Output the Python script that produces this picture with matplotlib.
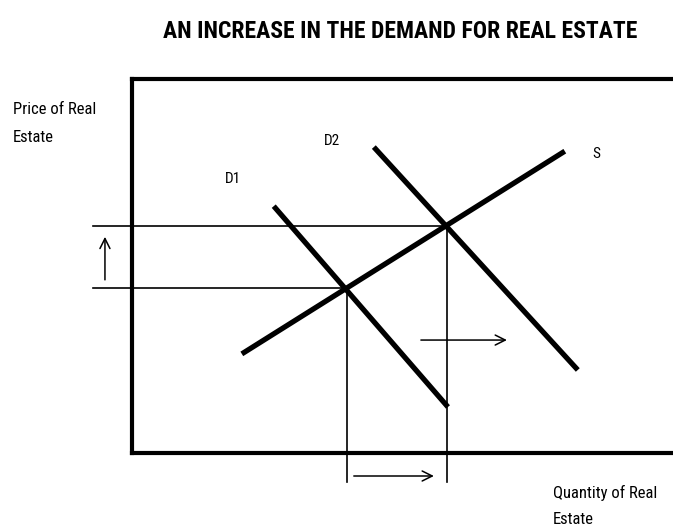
import matplotlib
matplotlib.use("Agg")
import matplotlib.pyplot as plt
from matplotlib import font_manager

W, H = 673, 529
fig = plt.figure(figsize=(W / 100, H / 100), dpi=100)

# Data (quantity, price) in chart units
supply_q = [20.3, 80.0]
supply_p = [26.5, 80.7]
d1_q = [26.2, 58.4]
d1_p = [66.0, 12.3]
d2_q = [44.7, 82.4]
d2_p = [81.8, 22.2]
eq_q = [39.7, 58.2]
eq_p = [44.1, 60.7]

curve_labels = ["D1", "D2", "S"]

# pick a condensed family if one is installed
installed = {f.name for f in font_manager.fontManager.ttflist}
candidates = ["Roboto Condensed", "Open Sans Condensed", "DejaVu Sans Condensed",
              "Liberation Sans Narrow", "Noto Sans Display", "Noto Sans", "DejaVu Sans"]
chosen = [c for c in candidates if c in installed]
fam = chosen[:1] + ["DejaVu Sans"]

# axes box: left px 132, bottom px 453, top px 79, right beyond figure
left, right = 132, 673 + 10
bottom, top = 453, 79
ax = fig.add_axes([left / W, 1 - bottom / H, (right - left) / W, (bottom - top) / H])
xmax = (right - left) / 5.41
ax.set_xlim(0, xmax)
ax.set_ylim(0, 100)
ax.set_xticks([])
ax.set_yticks([])
for s in ax.spines.values():
    s.set_linewidth(3.0)

lw_curve = 3.8
ax.plot(supply_q, supply_p, color="black", lw=lw_curve, solid_capstyle="butt")
ax.plot(d1_q, d1_p, color="black", lw=lw_curve, solid_capstyle="butt")
ax.plot(d2_q, d2_p, color="black", lw=lw_curve, solid_capstyle="butt")

q_guide_left = -7.2
p_guide_bottom = -7.75
for q, p in zip(eq_q, eq_p):
    ax.plot([q_guide_left, q], [p, p], color="black", lw=1.2, clip_on=False)
    ax.plot([q, q], [p_guide_bottom, p], color="black", lw=1.2, clip_on=False)

arrow = dict(arrowstyle="->", lw=1.1, color="black", mutation_scale=18, shrinkA=0, shrinkB=0)
ax.annotate("", xy=(-5.0, 57.8), xytext=(-5.0, 46.3), arrowprops=arrow, annotation_clip=False)
ax.annotate("", xy=(69.3, 30.2), xytext=(53.4, 30.2), arrowprops=arrow, annotation_clip=False)
ax.annotate("", xy=(55.8, -6.15), xytext=(41.0, -6.15), arrowprops=arrow, annotation_clip=False)


def ftext(x, y, s, **kw):
    fig.text(x / W, 1 - y / H, s, family=fam, fontstretch="condensed", **kw)

ftext(400, 32, "AN INCREASE IN THE DEMAND FOR REAL ESTATE", ha="center", va="center",
      fontsize=17, fontweight="bold")
ftext(13, 109, "Price of Real", ha="left", va="center", fontsize=12)
ftext(13, 137, "Estate", ha="left", va="center", fontsize=12)
ftext(553, 493, "Quantity of Real", ha="left", va="center", fontsize=12)
ftext(553, 520, "Estate", ha="left", va="center", fontsize=12)
ftext(233, 179, curve_labels[0], ha="center", va="center", fontsize=11)
ftext(332, 141, curve_labels[1], ha="center", va="center", fontsize=11)
ftext(596, 154, curve_labels[2], ha="center", va="center", fontsize=11)

fig.savefig("out.png", dpi=100)
